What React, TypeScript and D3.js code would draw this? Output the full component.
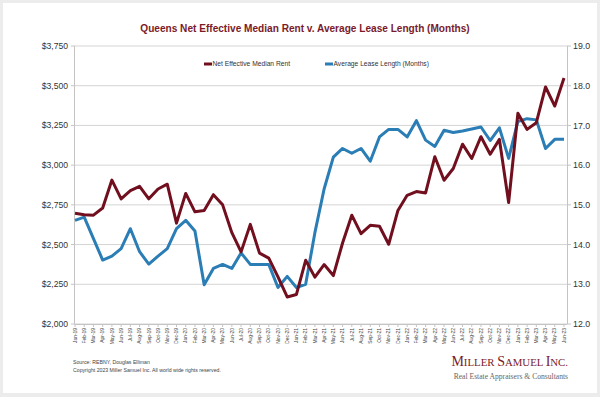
import React from "react";
import * as d3 from "d3";

const months = [
  "Jan-19", "Feb-19", "Mar-19", "Apr-19", "May-19", "Jun-19", "Jul-19", "Aug-19", "Sep-19", "Oct-19", "Nov-19", "Dec-19",
  "Jan-20", "Feb-20", "Mar-20", "Apr-20", "May-20", "Jun-20", "Jul-20", "Aug-20", "Sep-20", "Oct-20", "Nov-20", "Dec-20",
  "Jan-21", "Feb-21", "Mar-21", "Apr-21", "May-21", "Jun-21", "Jul-21", "Aug-21", "Sep-21", "Oct-21", "Nov-21", "Dec-21",
  "Jan-22", "Feb-22", "Mar-22", "Apr-22", "May-22", "Jun-22", "Jul-22", "Aug-22", "Sep-22", "Oct-22", "Nov-22", "Dec-22",
  "Jan-23", "Feb-23", "Mar-23", "Apr-23", "May-23", "Jun-23",
];

// net effective median rent ($)
const rent = [
  2697, 2688, 2685, 2730, 2906, 2788, 2840, 2867, 2788, 2850, 2880, 2635,
  2822, 2706, 2715, 2814, 2750, 2575, 2454, 2627, 2446, 2415, 2297, 2170,
  2186, 2401, 2295, 2374, 2305, 2510, 2685, 2569, 2621, 2615, 2502, 2715,
  2810, 2834, 2825, 3053, 2905, 2979, 3132, 3042, 3179, 3069, 3162, 2765,
  3326, 3225, 3267, 3492, 3372, 3548,
];

// average lease length (months)
const lease = [
  14.61, 14.69, 14.15, 13.61, 13.71, 13.9, 14.4, 13.82, 13.51, 13.71, 13.9, 14.4,
  14.61, 14.34, 12.99, 13.4, 13.5, 13.4, 13.79, 13.5, 13.5, 13.5, 12.92, 13.2,
  12.92, 13.0, 14.3, 15.4, 16.2, 16.42, 16.3, 16.42, 16.1, 16.71, 16.9, 16.9,
  16.71, 17.12, 16.63, 16.47, 16.88, 16.82, 16.86, 16.91, 16.96, 16.62, 16.94, 16.17,
  17.1, 17.17, 17.14, 16.42, 16.65, 16.65,
];

const leftTicks = [2000, 2250, 2500, 2750, 3000, 3250, 3500, 3750];
const rightTicks = [12, 13, 14, 15, 16, 17, 18, 19];

const RED = "#710f1f";
const BLUE = "#2a7db5";

const App = () => {
  const w = 600;
  const h = 397;
  const left = 75;
  const right = 567;
  const top = 46;
  const bottom = 324;

  const x = d3.scalePoint<string>().domain(months).range([left, 564]);
  const yL = d3.scaleLinear().domain([2000, 3750]).range([bottom, top]);
  const yR = d3.scaleLinear().domain([12, 19]).range([bottom, top]);

  const rentLine = d3.line<number>()
    .x((_, i) => x(months[i]) as number)
    .y(d => yL(d));
  const leaseLine = d3.line<number>()
    .x((_, i) => x(months[i]) as number)
    .y(d => yR(d));

  const fmt = d3.format("$,.0f");
  const serif = "Liberation Serif, Times New Roman, serif";

  return (
    <svg width={w} height={h} style={{ position: "absolute", left: 0, top: 0, fontFamily: "Liberation Sans, Arial, sans-serif" }}>
      <rect x={0} y={0} width={w} height={h} fill="#ececec" />
      <rect x={3} y={3} width={594} height={390} fill="#ffffff" />

      <text x={305} y={32} textAnchor="middle" fontSize={10.1} fontWeight="bold" fill="#7a1a2a">
        Queens Net Effective Median Rent v. Average Lease Length (Months)
      </text>

      {/* grid */}
      {leftTicks.map(t => (
        <line key={t} x1={left} x2={right} y1={yL(t)} y2={yL(t)} stroke="#d4d4d4" strokeWidth={1} />
      ))}

      {/* left axis */}
      <line x1={left - 0.5} x2={left - 0.5} y1={top} y2={bottom} stroke="#c4c4c4" />
      {leftTicks.map(t => (
        <g key={"l" + t}>
          <line x1={left - 4} x2={left} y1={yL(t)} y2={yL(t)} stroke="#c4c4c4" />
          <text x={68} y={yL(t)} dy="0.35em" textAnchor="end" fontSize={8.6} fill="#333">{fmt(t)}</text>
        </g>
      ))}

      {/* right axis */}
      <line x1={right + 0.5} x2={right + 0.5} y1={top} y2={bottom} stroke="#c4c4c4" />
      {rightTicks.map(t => (
        <g key={"r" + t}>
          <line x1={right} x2={right + 4} y1={yR(t)} y2={yR(t)} stroke="#c4c4c4" />
          <text x={573} y={yR(t)} dy="0.35em" fontSize={8.8} fill="#333">{t.toFixed(1)}</text>
        </g>
      ))}

      {/* x axis */}
      <line x1={left} x2={right} y1={bottom + 0.5} y2={bottom + 0.5} stroke="#c4c4c4" />
      {months.map(m => (
        <g key={m}>
          <line x1={x(m)} x2={x(m)} y1={bottom} y2={bottom + 3} stroke="#c4c4c4" />
          <text transform={`translate(${(x(m) as number)},${bottom + 4}) rotate(-90)`} dy="0.35em" textAnchor="end" fontSize={4.9} fill="#444">{m}</text>
        </g>
      ))}

      {/* series */}
      <path d={leaseLine(lease) ?? ""} fill="none" stroke={BLUE} strokeWidth={3} strokeLinejoin="round" />
      <path d={rentLine(rent) ?? ""} fill="none" stroke={RED} strokeWidth={3} strokeLinejoin="round" />

      {/* legend */}
      <line x1={204} x2={212} y1={64} y2={64} stroke={RED} strokeWidth={3} />
      <text x={212.5} y={64} dy="0.35em" fontSize={6.7} fill="#333">Net Effective Median Rent</text>
      <line x1={325} x2={333} y1={64} y2={64} stroke={BLUE} strokeWidth={3} />
      <text x={333.5} y={64} dy="0.35em" fontSize={6.7} fill="#333">Average Lease Length (Months)</text>

      {/* footer */}
      <text x={73} y={364} fontSize={5.2} fill="#444">Source: REBNY, Douglas Elliman</text>
      <text x={73} y={372} fontSize={5.2} fill="#444">Copyright 2023 Miller Samuel Inc.  All world wide rights reserved.</text>

      <text x={568} y={366} textAnchor="end" fontFamily={serif} fill="#7a1a2a">
        <tspan fontSize={14}>M</tspan><tspan fontSize={10.8}>ILLER </tspan><tspan fontSize={14}>S</tspan><tspan fontSize={10.8}>AMUEL </tspan><tspan fontSize={14}>I</tspan><tspan fontSize={10.8}>NC.</tspan>
      </text>
      <text x={568} y={379} textAnchor="end" fontFamily={serif} fontSize={7.6} fill="#666">
        Real Estate Appraisers &amp; Consultants
      </text>
    </svg>
  );
};

export default App;
